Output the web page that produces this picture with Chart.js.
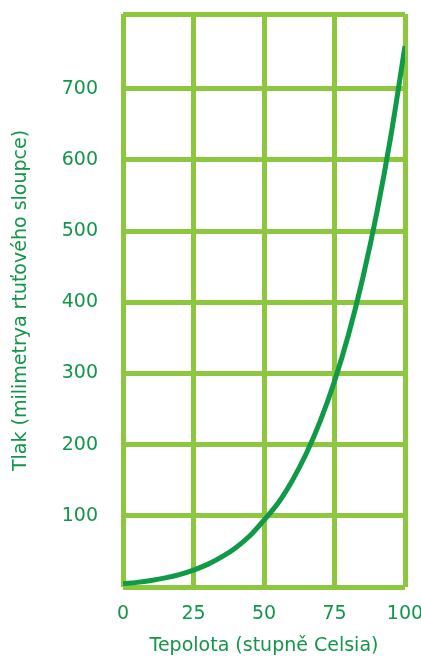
<!DOCTYPE html>
<html lang="cs">
  <head>
    <meta charset="UTF-8" />
    <title>Tlak vodní páry</title>
    <style>
      * {
        margin: 0;
        padding: 0;
      }
      body {
        background: #fff;
        overflow: hidden;
      }
      canvas {
        display: block;
      }
    </style>
  </head>
  <body>
    <canvas id="myChart" width="421" height="658"></canvas>

    <script src="https://cdn.jsdelivr.net/npm/chart.js@4/dist/chart.umd.min.js"></script>
    <script>
      // Temperature (°C) and vapour pressure (mm Hg)
      const temperatures = [0, 5, 10, 15, 20, 25, 30, 35, 40, 45, 50, 55, 60, 65, 70, 75, 80, 85, 90, 95, 100]
      const pressures = [4.6, 6.5, 9.2, 12.8, 17.5, 23.8, 31.8, 42.2, 55.3, 71.9, 94, 118, 149.4, 187.5, 233.7, 289.1, 355.1, 433.6, 525.8, 633.9, 760]
      const xTicks = [0, 25, 50, 75, 100]
      const yTickLabels = [100, 200, 300, 400, 500, 600, 700]

      const textColor = '#13954a'
      const gridColor = '#8dc63f'
      const lineColor = '#0f9a48'
      const font = { family: 'DejaVu Sans', size: 19 }

      const ctx = document.getElementById('myChart')

      const data = {
        datasets: [
          {
            label: 'Tlak',
            data: temperatures.map((t, i) => ({ x: t, y: pressures[i] })),
            borderColor: lineColor,
            borderWidth: 5,
            pointRadius: 0,
            showLine: true,
            tension: 0.4,
            cubicInterpolationMode: 'monotone',
            fill: false
          }
        ]
      }

      const options = {
        responsive: false,
        animation: false,
        layout: {
          padding: { left: 10, right: 0, top: 0, bottom: 1 }
        },
        plugins: {
          legend: { display: false },
          tooltip: { enabled: false }
        },
        scales: {
          x: {
            type: 'linear',
            min: 0,
            max: 100,
            afterBuildTicks: (axis) => {
              axis.ticks = xTicks.map((v) => ({ value: v }))
            },
            // keep the plot box where the reference has it
            afterFit: (axis) => {
              axis.height = 70
              axis.paddingLeft = 0
              axis.paddingRight = 16
            },
            grid: { color: gridColor, lineWidth: 5, drawTicks: false },
            border: { display: false },
            ticks: { color: textColor, font, padding: 16 },
            title: {
              display: true,
              text: 'Tepolota (stupně Celsia)',
              color: textColor,
              font,
              padding: { top: 9, bottom: 0 }
            }
          },
          y: {
            type: 'linear',
            min: 0,
            max: 805,
            afterBuildTicks: (axis) => {
              axis.ticks = [0, ...yTickLabels, 805].map((v) => ({ value: v }))
            },
            afterFit: (axis) => {
              axis.width = 113
              axis.paddingTop = 14
              axis.paddingBottom = 0
            },
            grid: { color: gridColor, lineWidth: 5, drawTicks: false },
            border: { display: false },
            ticks: {
              color: textColor,
              font,
              padding: 25,
              callback: (value) => (yTickLabels.includes(value) ? value : '')
            },
            title: {
              display: true,
              text: 'Tlak (milimetrya rtuťového sloupce)',
              color: textColor,
              font,
              padding: { top: 0, bottom: 22 }
            }
          }
        }
      }

      new Chart(ctx, { type: 'scatter', data, options })
    </script>
  </body>
</html>
